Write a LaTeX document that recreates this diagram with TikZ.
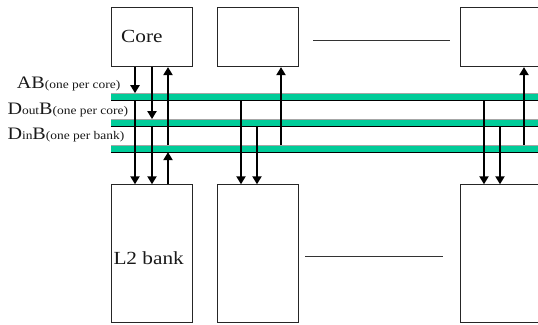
\documentclass[tikz,border=0pt]{standalone}
\usepackage{fontspec}
\setmainfont{Liberation Serif}[FakeStretch=1.15]
\usetikzlibrary{arrows.meta}
\definecolor{busgreen}{RGB}{0,204,153}
\tikzset{
  box/.style={draw=black!85, line width=0.8pt, fill=white, inner sep=0pt, anchor=north west},
  busbar/.style={fill=busgreen, draw=none, inner sep=0pt, anchor=north west, minimum width=440pt, minimum height=6.6pt},
  busedge/.style={black, line width=0.9pt},
  bustop/.style={black!35, line width=0.6pt},
  arr/.style={line width=2pt, -{Triangle[length=8pt,width=9pt]}},
  etc/.style={black!80, line width=1pt},
  lbl/.style={anchor=base west, inner sep=0pt, text=black!90},
  big/.style={font=\fontsize{18.5}{20}\selectfont},
}
\newcommand{\lblbig}{\fontsize{17.5}{18}\selectfont}
\newcommand{\lblsmall}{\fontsize{11.7}{12}\selectfont}
\begin{document}
\begin{tikzpicture}[x=1pt,y=-1pt]
\useasboundingbox (0,0) rectangle (538,324);
% core boxes
\node[box, minimum width=81pt, minimum height=59.3pt] (c1) at (111,7) {};
\node[box, minimum width=81.2pt, minimum height=59.3pt] (c2) at (216.5,7) {};
\node[box, minimum width=81pt, minimum height=59.3pt] (c3) at (459.7,7) {};
% L2 boxes
\node[box, minimum width=81pt, minimum height=137.4pt] (l1) at (111.3,184.3) {};
\node[box, minimum width=81.2pt, minimum height=137.4pt] (l2) at (216.5,184.3) {};
\node[box, minimum width=81pt, minimum height=137.4pt] (l3) at (459.7,184.3) {};
% texts
\node[lbl, big] (coretxt) at (121,42.3) {Core};
\node[lbl, big] (l2txt) at (113.3,264) {L2 bank};
% ellipsis lines
\coordinate (e1a) at (313,40.7); \coordinate (e1b) at (450,40.7);
\coordinate (e2a) at (305,256);  \coordinate (e2b) at (442.5,256);
\draw[etc] (e1a) -- (e1b);
\draw[etc] (e2a) -- (e2b);
% buses
\node[busbar] (ab) at (111,93.2) {};
\node[busbar] (dout) at (111,119.1) {};
\node[busbar] (din) at (111,145.1) {};
\foreach \b in {ab,dout,din}{
  \draw[bustop] (\b.north west) -- (\b.north east);
  \draw[busedge] (\b.south west) -- (\b.south east);
}
% bus labels
\node[lbl] (labab) at (16.7,88.3) {\lblbig AB\lblsmall(one per core)};
\node[lbl] (labdout) at (7.3,114) {\lblbig D\lblsmall out\lblbig B\lblsmall(one per core)};
\node[lbl] (labdin) at (7.3,139.3) {\lblbig D\lblsmall in\lblbig B\lblsmall(one per bank)};
% column x positions
\coordinate (a1) at (135,0); \coordinate (b1) at (152,0); \coordinate (u1) at (168,0);
\coordinate (a2) at (241,0); \coordinate (b2) at (257,0); \coordinate (u2) at (281,0);
\coordinate (a3) at (484,0); \coordinate (b3) at (500,0); \coordinate (u3) at (524,0);
% column 1
\draw[arr] (c1.south -| a1) -- (ab.north -| a1);
\draw[arr] (ab.south -| a1) -- (l1.north -| a1);
\draw[arr] (c1.south -| b1) -- (dout.north -| b1);
\draw[arr] (dout.south -| b1) -- (l1.north -| b1);
\draw[arr] (din.north -| u1) -- (c1.south -| u1);
\draw[arr] (l1.north -| u1) -- (din.south -| u1);
% column 2
\draw[arr] (ab.south -| a2) -- (l2.north -| a2);
\draw[arr] (dout.south -| b2) -- (l2.north -| b2);
\draw[arr] (din.north -| u2) -- (c2.south -| u2);
% column 3
\draw[arr] (ab.south -| a3) -- (l3.north -| a3);
\draw[arr] (dout.south -| b3) -- (l3.north -| b3);
\draw[arr] (din.north -| u3) -- (c3.south -| u3);
\end{tikzpicture}
\end{document}
